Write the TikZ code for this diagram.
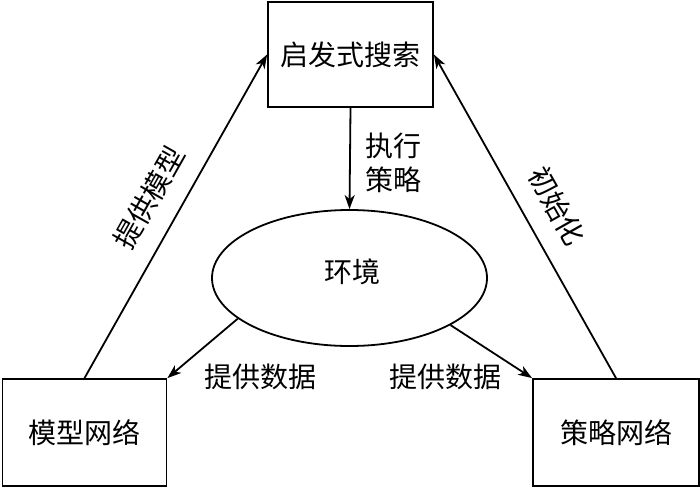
\documentclass[tikz,border=0pt]{standalone}
\usepackage{fontspec}
\setmainfont{Noto Sans CJK SC}
\usetikzlibrary{shapes.geometric,arrows.meta}
\begin{document}
\begin{tikzpicture}[x=1pt,y=-1pt,
  every node/.style={font=\fontsize{28}{36}\selectfont},
  box/.style={draw,line width=1.8pt,rectangle,inner sep=0pt},
  arr/.style={line width=1.8pt,-{Stealth[length=14pt,width=10pt,inset=4pt]}},
  lbl/.style={inner sep=0pt}]
\useasboundingbox (0,0) rectangle (700,487);
\node[box,minimum width=165pt,minimum height=105pt] (top) at (350.5,54.5) {启发式搜索};
\node[box,minimum width=164pt,minimum height=107pt] (mbox) at (84.5,432.5) {模型网络};
\node[box,minimum width=166pt,minimum height=107pt] (pbox) at (616,432.5) {策略网络};
\node[draw,line width=1.8pt,ellipse,minimum width=275pt,minimum height=136pt,inner sep=0pt] (env) at (349.5,278) {};
\node[lbl] (envt) at (352,272) {环境};
\draw[arr] (mbox.north) -- (top.west);
\draw[arr] (pbox.north) -- (top.east);
\draw[arr] (top.south) -- (env.north);
\draw[arr] (env.-160) -- (mbox.north east);
\draw[arr] (env.-25) -- (pbox.north west);
\node[lbl,align=left] (exec) at (393,163) {执行\\[-2pt]策略};
\node[lbl] (dl) at (260,377) {提供数据};
\node[lbl] (dr) at (445,377) {提供数据};
\node[lbl,rotate=60.5] (pm) at (149,198) {提供模型};
\node[lbl,rotate=-60.5] (init) at (557,206) {初始化};
\end{tikzpicture}
\end{document}
